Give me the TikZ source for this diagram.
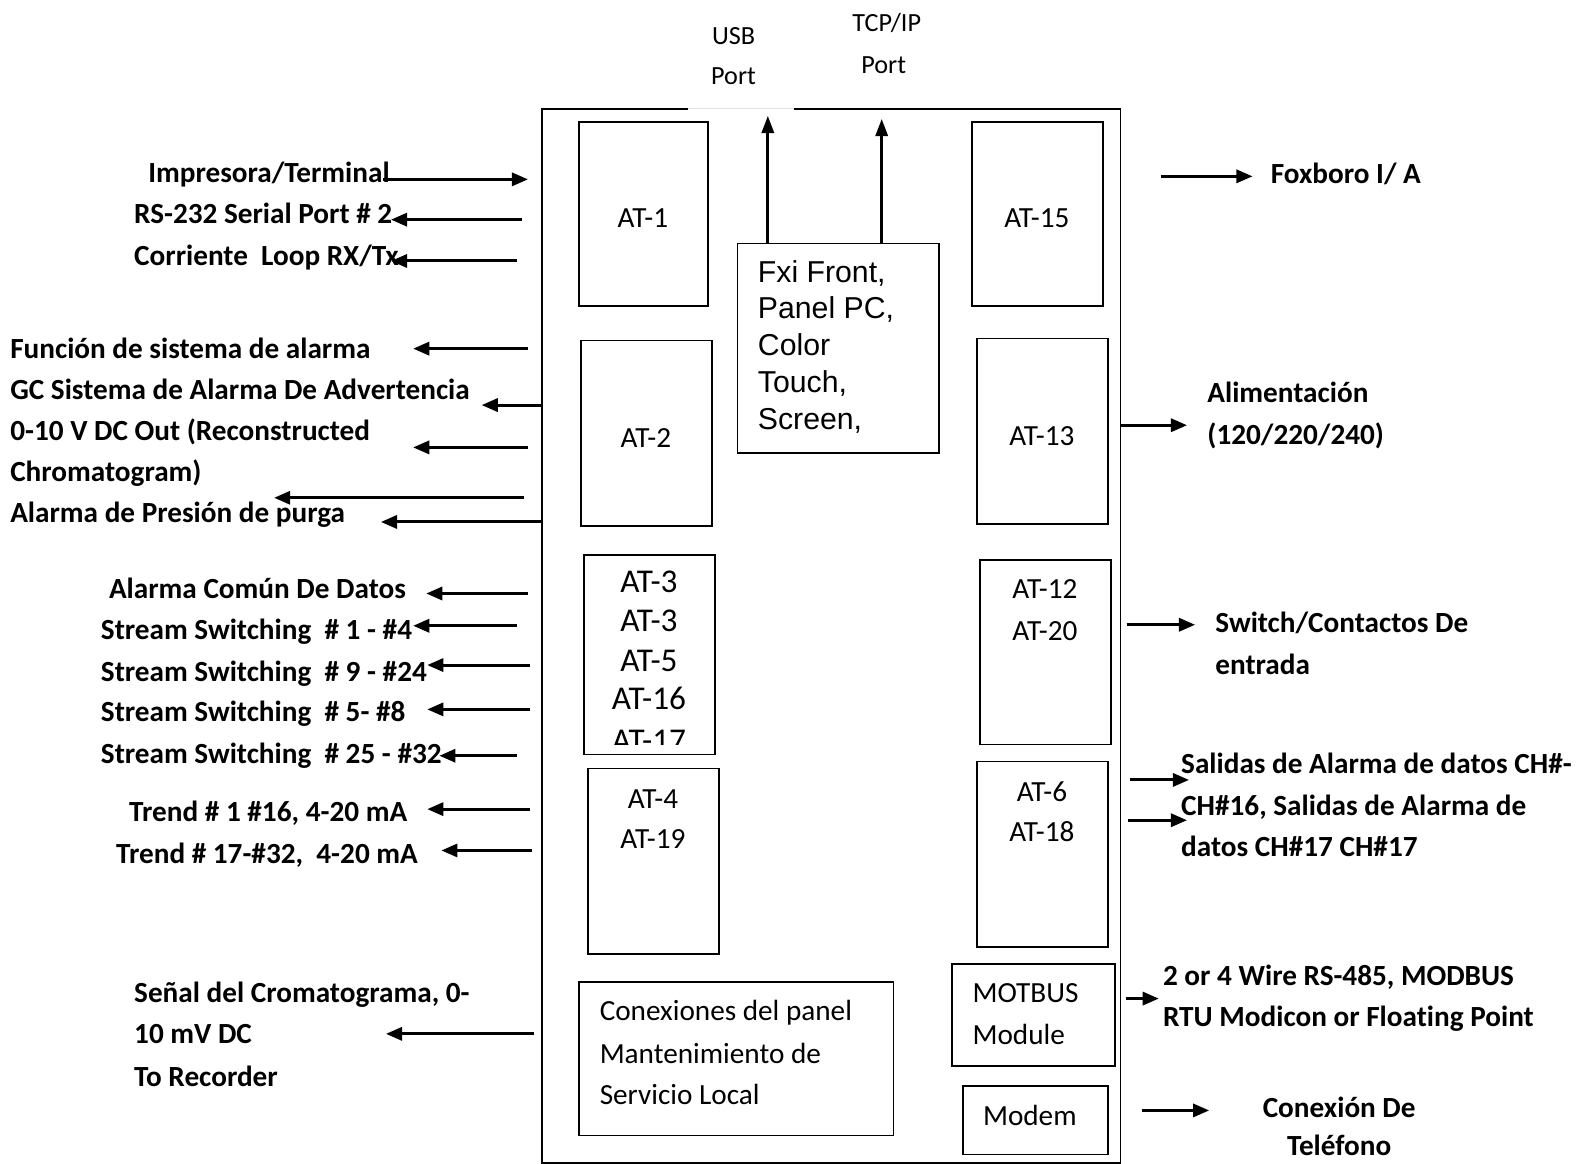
\documentclass[tikz,border=0pt]{standalone}
\usepackage{fontspec}
\setmainfont{Carlito}[Ligatures={NoCommon}, Contextuals={NoAlternate}]
\newfontfamily\arialfont{Liberation Sans}
\usetikzlibrary{arrows.meta}

% horizontal connector between two named coordinates: name, x start, x end, y
\newcommand\hconn[4]{%
  \coordinate (#1s) at (#2,#4);
  \coordinate (#1e) at (#3,#4);
  \draw[conn] (#1s) -- (#1e);}

\begin{document}
\begin{tikzpicture}[x=1pt,y=-1pt,
  lbl/.style={font=\bfseries\fontsize{29}{35}\selectfont, anchor=base west, inner sep=0pt},
  lblc/.style={font=\bfseries\fontsize{29}{35}\selectfont, anchor=base, inner sep=0pt},
  txt/.style={font=\fontsize{29}{35}\selectfont, anchor=base, inner sep=0pt},
  txtl/.style={font=\fontsize{29}{35}\selectfont, anchor=base west, inner sep=0pt},
  bigtxt/.style={font=\fontsize{33}{38}\selectfont, anchor=base, inner sep=0pt},
  fxitxt/.style={font=\arialfont\fontsize{30}{36}\selectfont, anchor=base west, inner sep=0pt},
  port/.style={font=\fontsize{26}{30}\selectfont, anchor=base, inner sep=0pt},
  module/.style={draw, line width=1.6pt, rectangle, anchor=north west, inner sep=0pt},
  conn/.style={line width=3pt, -{Triangle[length=16pt,width=13pt]}},
  upconn/.style={line width=2.8pt, -{Triangle[length=17pt,width=12pt]}},
]
\useasboundingbox (0,0) rectangle (1568,1155);

% enclosure, open at the top where the USB port leaves
\draw[black!12, line width=1pt] (683,108) -- (788,108);
\draw[line width=1.6pt] (683,108) -- (538,108) -- (538,1154) -- (1112,1154) -- (1112,108) -- (788,108);

% modules
\node[module, minimum width=128pt, minimum height=183pt] (at1) at (574,120) {};
\node[module, minimum width=130pt, minimum height=183pt] (at15) at (964,120) {};
\node[module, minimum width=200pt, minimum height=208pt] (fxi) at (731,241) {};
\node[module, minimum width=130pt, minimum height=184pt] (at2) at (576,337) {};
\node[module, minimum width=130pt, minimum height=184pt] (at13) at (969,335) {};
\node[module, minimum width=130pt, minimum height=198pt] (at3) at (579,550) {};
\node[module, minimum width=130pt, minimum height=184pt] (at4) at (583,762) {};
\node[module, minimum width=130pt, minimum height=183pt] (at12) at (972,555) {};
\node[module, minimum width=130pt, minimum height=184pt] (at6) at (969,755) {};
\node[module, minimum width=162pt, minimum height=101pt] (motbus) at (944,956) {};
\node[module, minimum width=144pt, minimum height=68pt] (modem) at (955,1077) {};
\node[module, minimum width=312pt, minimum height=152pt] (conex) at (574,974) {};

% module texts
\node[txt] (t-at1) at (638,226) {AT-1};
\node[txt] (t-at15) at (1029,226) {AT-15};
\node[txt] (t-at2) at (641,444) {AT-2};
\node[txt] (t-at13) at (1034,442) {AT-13};
\begin{scope}
  \clip (580,551) rectangle (708,739);
  \node[bigtxt] (t-at3a) at (644,588) {AT-3};
  \node[bigtxt] (t-at3b) at (644,627) {AT-3};
  \node[bigtxt] (t-at5) at (644,666) {AT-5};
  \node[bigtxt] (t-at16) at (644,704) {AT-16};
  \node[bigtxt] (t-at17) at (644,746) {AT-17};
\end{scope}
\node[txt] (t-at4) at (648,802) {AT-4};
\node[txt] (t-at19) at (648,842) {AT-19};
\node[txt] (t-at12) at (1037,594) {AT-12};
\node[txt] (t-at20) at (1037,636) {AT-20};
\node[txt] (t-at6) at (1034,795) {AT-6};
\node[txt] (t-at18) at (1034,835) {AT-18};
\node[txtl] (t-mot1) at (965,995) {MOTBUS};
\node[txtl] (t-mot2) at (965,1037) {Module};
\node[txt] (t-modem) at (1022,1117) {Modem};
\node[txtl] (t-con1) at (595,1013) {Conexiones del panel};
\node[txtl] (t-con2) at (595,1055) {Mantenimiento de};
\node[txtl] (t-con3) at (595,1096) {Servicio Local};

\node[fxitxt] (t-fxi1) at (752,280) {Fxi Front,};
\node[fxitxt] (t-fxi2) at (752,316.5) {Panel PC,};
\node[fxitxt] (t-fxi3) at (752,353) {Color};
\node[fxitxt] (t-fxi4) at (752,389.5) {Touch,};
\node[fxitxt] (t-fxi5) at (752,426) {Screen,};

% ports on top
\node[port] (usb1) at (728,44) {USB};
\node[port] (usb2) at (728,84) {Port};
\node[port] (tcp1) at (880,31) {TCP/IP};
\node[port] (tcp2) at (877,73) {Port};
\coordinate (usbtip) at (762,115);
\coordinate (tcptip) at (875,118);
\draw[upconn] (fxi.north -| usbtip) -- (usbtip);
\draw[upconn] (fxi.north -| tcptip) -- (tcptip);

% left side signals
\node[lbl] (l1) at (147,181) {Impresora/Terminal};
\node[lbl] (l2) at (133,222) {RS-232 Serial Port \# 2};
\node[lbl] (l3) at (133,263) {Corriente\ \ Loop RX/Tx};
\node[lbl] (l4) at (10,356) {Función de sistema de alarma};
\node[lbl] (l5) at (10,396) {GC Sistema de Alarma De Advertencia};
\node[lbl] (l6) at (10,437) {0-10 V DC Out (Reconstructed};
\node[lbl] (l7) at (10,478) {Chromatogram)};
\node[lbl] (l8) at (10,519) {Alarma de Presión de purga};
\node[lbl] (l9) at (108,594) {Alarma Común De Datos};
\node[lbl] (l10) at (100,635) {Stream Switching\ \ \# 1 - \#4};
\node[lbl] (l11) at (100,676) {Stream Switching\ \ \# 9 - \#24};
\node[lbl] (l12) at (100,716) {Stream Switching\ \ \# 5- \#8};
\node[lbl] (l13) at (100,758) {Stream Switching\ \ \# 25 - \#32};
\node[lbl] (l14) at (128,815) {Trend \# 1 \#16, 4-20 mA};
\node[lbl] (l15) at (115,857) {Trend \# 17-\#32,\ \ 4-20 mA};
\node[lbl] (l16) at (133,995) {Señal del Cromatograma, 0-};
\node[lbl] (l17) at (133,1036) {10 mV DC};
\node[lbl] (l18) at (133,1078) {To Recorder};

\hconn{a1}{380}{524}{178}
\hconn{a2}{518}{388}{218}
\hconn{a3}{513}{388}{259}
\hconn{a4}{524}{410}{346}
\hconn{a5}{538}{478}{402}
\hconn{a6}{524}{410}{444}
\hconn{a7}{520}{272}{494}
\hconn{a8}{538}{378}{518}
\hconn{a9}{524}{423}{589}
\hconn{a10}{513}{410}{621}
\hconn{a11}{526}{424}{660}
\hconn{a12}{526}{424}{704}
\hconn{a13}{513}{436}{750}
\hconn{a14}{526}{424}{803}
\hconn{a15}{528}{438}{844}
\hconn{a16}{530}{383}{1026}

% right side signals
\node[lbl] (r1) at (1261,182) {Foxboro I/ A};
\node[lbl] (r2) at (1198,399) {Alimentación};
\node[lbl] (r3) at (1198,441) {(120/220/240)};
\node[lbl] (r4) at (1206,628) {Switch/Contactos De};
\node[lbl] (r5) at (1206,669) {entrada};
\node[lbl] (r6) at (1172,768) {Salidas de Alarma de datos CH\#-};
\node[lbl] (r7) at (1172,809) {CH\#16, Salidas de Alarma de};
\node[lbl] (r8) at (1172,850) {datos CH\#17 CH\#17};
\node[lbl] (r9) at (1154,978) {2 or 4 Wire RS-485, MODBUS};
\node[lbl] (r10) at (1154,1019) {RTU Modicon or Floating Point};
\node[lblc] (r11) at (1329,1109) {Conexión De};
\node[lblc] (r12) at (1329,1147) {Teléfono};

\hconn{b1}{1152}{1243}{175}
\hconn{b2}{1112}{1178}{422}
\hconn{b3}{1118}{1186}{620}
\hconn{b4}{1121}{1180}{774}
\hconn{b5}{1119}{1178}{814}
\hconn{b6}{1117}{1150}{991}
\hconn{b7}{1133}{1200}{1102}
\end{tikzpicture}
\end{document}
